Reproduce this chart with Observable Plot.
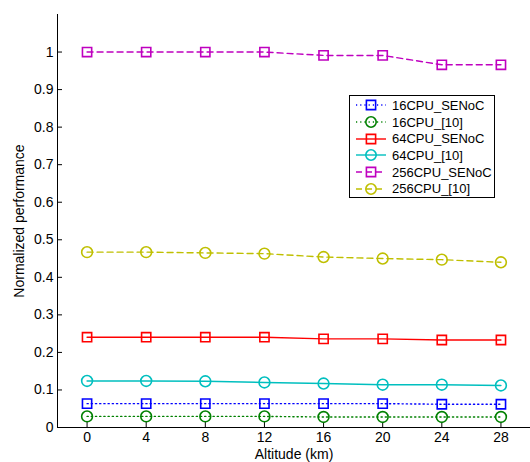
<!DOCTYPE html>
<html>
<head>
<meta charset="utf-8">
<script src="https://cdn.jsdelivr.net/npm/d3@7"></script>
<script src="https://cdn.jsdelivr.net/npm/@observablehq/plot@0.6"></script>
<style>
  body { margin: 0; background: #fff; }
  #wrap { position: relative; width: 530px; height: 462px; font-family: "Liberation Sans", Arial, sans-serif; }
  #legend { position: absolute; left: 349px; top: 95px; width: 146px; height: 103px; border: 1px solid #000; background: #fff; box-sizing: border-box; padding-top: 1px; }
  .row { display: flex; align-items: center; height: 16.7px; font-size: 13px; color: #000; }
  .row svg { flex: none; }
</style>
</head>
<body>
<div id="wrap"><div id="chart"></div><div id="legend"></div></div>
<script>
// ---- data ----
const altitude = [0, 4, 8, 12, 16, 20, 24, 28];
const seriesNames = ["16CPU_SENoC", "16CPU_[10]", "64CPU_SENoC", "64CPU_[10]", "256CPU_SENoC", "256CPU_[10]"];
const cpu16SENoC = [0.0635, 0.0635, 0.0635, 0.0635, 0.0635, 0.0635, 0.062, 0.062];
const cpu16Ref10 = [0.0295, 0.0295, 0.0295, 0.0295, 0.028, 0.028, 0.028, 0.028];
const cpu64SENoC = [0.2405, 0.2405, 0.2405, 0.2405, 0.236, 0.236, 0.233, 0.233];
const cpu64Ref10 = [0.124, 0.124, 0.123, 0.120, 0.117, 0.114, 0.114, 0.112];
const cpu256SENoC = [1.0, 1.0, 1.0, 1.0, 0.991, 0.991, 0.966, 0.966];
const cpu256Ref10 = [0.467, 0.467, 0.465, 0.463, 0.454, 0.450, 0.447, 0.440];
const xTicks = [0, 4, 8, 12, 16, 20, 24, 28];
const yTicks = [0, 0.1, 0.2, 0.3, 0.4, 0.5, 0.6, 0.7, 0.8, 0.9, 1];

// ---- styles ----
const seriesValues = [cpu16SENoC, cpu16Ref10, cpu64SENoC, cpu64Ref10, cpu256SENoC, cpu256Ref10];
const colors = ["#0000ff", "#008000", "#ff0000", "#00bfbf", "#bf00bf", "#bfbf00"];
const dashes = ["1.2,3", "1.2,3", null, null, "6,4", "6,4"];
const symbols = ["square", "circle", "square", "circle", "square", "circle"];

const series = seriesNames.map((name, i) => ({
  name, color: colors[i], dash: dashes[i], symbol: symbols[i],
  data: altitude.map((a, j) => ({altitude: a, value: seriesValues[i][j], name}))
}));

const marks = [];
for (const s of series) {
  marks.push(Plot.line(s.data, {x: "altitude", y: "value", stroke: s.color, strokeWidth: 1.4, strokeDasharray: s.dash}));
  marks.push(Plot.dot(s.data, {x: "altitude", y: "value", symbol: s.symbol, r: s.symbol === "square" ? 5.2 : 5.4, stroke: s.color, fill: "none", strokeWidth: 1.6}));
}

const chart = Plot.plot({
  width: 530,
  height: 462,
  marginLeft: 57,
  marginRight: 0,
  marginTop: 14,
  marginBottom: 35,
  style: {fontFamily: "Liberation Sans, Arial, sans-serif", fontSize: "14px", color: "#000", background: "#fff"},
  x: {domain: [-2, 30]},
  y: {domain: [0, 1.1]},
  marks: [
    Plot.axisX({ticks: xTicks, tickSize: -5, tickPadding: 10, tickFormat: d => String(d), label: "Altitude (km)", labelArrow: false, labelAnchor: "center", labelOffset: 31, fontSize: 14}),
    Plot.axisY({ticks: yTicks, tickSize: -5, tickPadding: 9, tickFormat: d => String(d), label: "Normalized performance", labelArrow: false, labelAnchor: "center", labelOffset: 43, fontSize: 14}),
    Plot.ruleX([-2], {stroke: "#000", strokeWidth: 1}),
    Plot.ruleY([0], {stroke: "#000", strokeWidth: 1}),
    ...marks
  ]
});
document.getElementById("chart").appendChild(chart);

// ---- legend ----
const legend = d3.select("#legend");
for (const s of series) {
  const row = legend.append("div").attr("class", "row");
  const svg = row.append("svg").attr("width", 42).attr("height", 16);
  svg.append("line").attr("x1", 6).attr("x2", 36).attr("y1", 8).attr("y2", 8)
    .attr("stroke", s.color).attr("stroke-width", 1.4).attr("stroke-dasharray", s.dash);
  const sym = d3.symbol(s.symbol === "square" ? d3.symbolSquare : d3.symbolCircle, Math.PI * 5.2 * 5.2)();
  svg.append("path").attr("d", sym).attr("transform", "translate(21,8)")
    .attr("fill", "none").attr("stroke", s.color).attr("stroke-width", 1.6);
  row.append("span").text(s.name);
}
</script>
</body>
</html>
